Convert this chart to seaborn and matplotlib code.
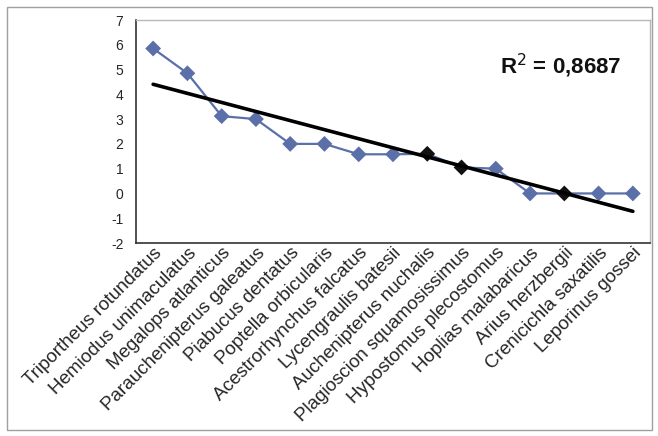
import numpy as np
import pandas as pd
import matplotlib
matplotlib.use("Agg")
import matplotlib.pyplot as plt
import seaborn as sns
from matplotlib.patches import Rectangle

species = [
    "Triportheus rotundatus", "Hemiodus unimaculatus", "Megalops atlanticus",
    "Parauchenipterus galeatus", "Piabucus dentatus", "Poptella orbicularis",
    "Acestrorhynchus falcatus", "Lycengraulis batesii", "Auchenipterus nuchalis",
    "Plagioscion squamosissimus", "Hypostomus plecostomus", "Hoplias malabaricus",
    "Arius herzbergii", "Crenicichla saxatilis", "Leporinus gossei",
]
values = [5.85, 4.85, 3.12, 3.0, 2.0, 2.0, 1.58, 1.58, 1.6, 1.05, 1.0, 0.0, 0.0, 0.0, 0.0]
marker_colors = ["#5b6fa8"] * 8 + ["#111111", "#111111", "#5b6fa8", "#5b6fa8", "#111111", "#5b6fa8", "#5b6fa8"]
yticks = [-2, -1, 0, 1, 2, 3, 4, 5, 6, 7]
r2_text = "R$^2$ = 0,8687"

sns.set_style("white")
plt.rcParams["font.family"] = ["Liberation Sans", "DejaVu Sans"]

df = pd.DataFrame({"pos": np.arange(1, len(species) + 1), "value": values})

fig = plt.figure(figsize=(6.58, 4.36), dpi=100)
ax = fig.add_axes([136 / 658, 1 - 243 / 436, (650 - 136) / 658, (243 - 20) / 436])

# data line
sns.lineplot(data=df, x="pos", y="value", ax=ax, color="#5b6fa8", linewidth=1.6, zorder=2)
ax.scatter(df["pos"], df["value"], marker="D", s=65, c=marker_colors, zorder=3, linewidths=0)

# linear trend line
coef = np.polyfit(df["pos"], df["value"], 1)
xt = np.array([df["pos"].min(), df["pos"].max()])
sns.lineplot(x=xt, y=np.polyval(coef, xt), ax=ax, color="black", linewidth=2.6, zorder=4)

ax.set_xlim(0.5, len(species) + 0.5)
ax.set_ylim(-2, 7)
ax.set_yticks(yticks)
ax.set_yticklabels([str(t) for t in yticks], fontsize=10)
ax.set_xticks(df["pos"])
ax.set_xticklabels(species, rotation=45, ha="right", rotation_mode="anchor", fontsize=13.5)
ax.tick_params(axis="x", length=0, pad=1)
ax.tick_params(axis="y", length=3, width=1, color="#333333", direction="out", pad=6)
# category boundary ticks
ax.set_xticks(np.arange(0.5, len(species) + 1.0, 1.0), minor=True)
ax.tick_params(axis="x", which="minor", length=5, width=1, color="#333333", direction="out")
ax.set_xlabel("")
ax.set_ylabel("")

for side in ["top", "right"]:
    ax.spines[side].set_color("#b8b8b8")
    ax.spines[side].set_linewidth(1.0)
for side in ["left", "bottom"]:
    ax.spines[side].set_color("#333333")
    ax.spines[side].set_linewidth(1.2)

ax.text(0.827, 0.795, r2_text, transform=ax.transAxes, fontsize=16, fontweight="bold",
        ha="center", va="center", color="#111111")

fig.patches.append(Rectangle((7 / 658, 1 - 430 / 436), (652 - 7) / 658, (430 - 7) / 436,
                             transform=fig.transFigure, fill=False, edgecolor="#a0a0a0", linewidth=1.0))

fig.savefig("out.png", dpi=100)
